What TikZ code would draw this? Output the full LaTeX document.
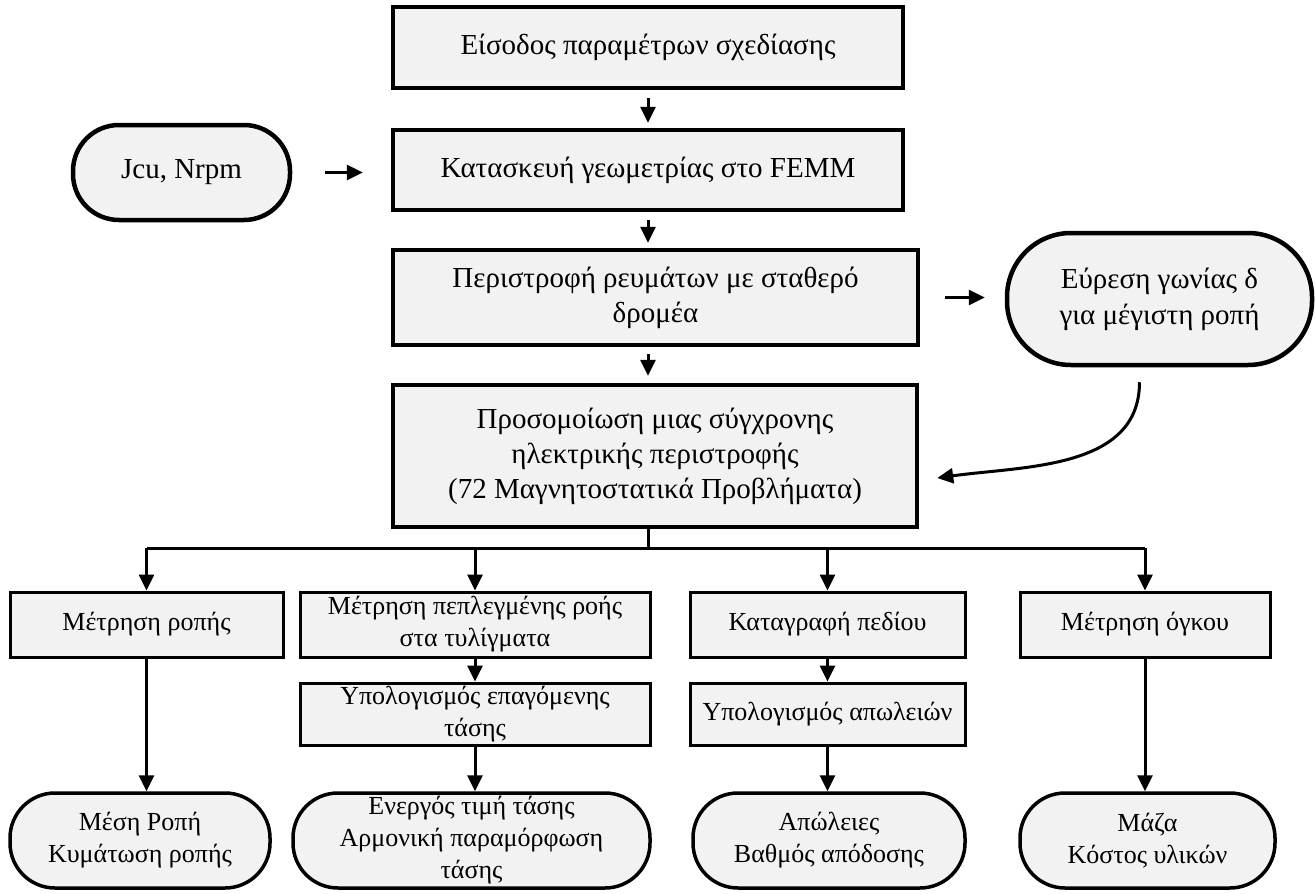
\documentclass[tikz,border=0pt]{standalone}
\usepackage{fontspec}
\setmainfont{Liberation Serif}
\usepackage{tikz}
\usetikzlibrary{arrows.meta}

\begin{document}
\begin{tikzpicture}[x=1pt,y=-1pt,
  stepbox/.style={draw=black,fill=black!5,line width=4.5pt,align=center,inner sep=0pt,font=\fontsize{29}{35}\selectfont},
  subbox/.style={draw=black,fill=black!5,line width=3pt,align=center,inner sep=0pt,font=\fontsize{26}{32}\selectfont},
  resbox/.style={draw=black,fill=black!5,line width=3.5pt,align=center,inner sep=0pt,rounded corners=45pt,font=\fontsize{26}{32}\selectfont},
  inbox/.style={draw=black,fill=black!5,line width=4.5pt,align=center,inner sep=0pt,rounded corners=46pt,font=\fontsize{29}{36}\selectfont},
  arr/.style={line width=3pt,-{Triangle[length=16pt,width=15pt]}},
  link/.style={line width=3pt}]
\useasboundingbox (0,0) rectangle (1315,894);
\node[stepbox,minimum width=510pt,minimum height=81pt] (input) at (648,47.5) {Είσοδος παραμέτρων σχεδίασης};
\node[stepbox,minimum width=510pt,minimum height=80pt] (geom) at (648,170) {Κατασκευή γεωμετρίας στο FEMM};
\node[inbox,minimum width=217pt,minimum height=95pt] (jcu) at (181.5,172.5) {Jcu, Nrpm};
\node[stepbox,minimum width=525pt,minimum height=95pt] (rot) at (655.5,297.5) {Περιστροφή ρευμάτων με σταθερό\\δρομέα};
\node[inbox,minimum width=305pt,minimum height=132pt,rounded corners=64pt] (delta) at (1159.5,299) {Εύρεση γωνίας δ\\για μέγιστη ροπή};
\node[stepbox,minimum width=524pt,minimum height=142pt] (sim) at (655,456) {Προσομοίωση μιας σύγχρονης\\ηλεκτρικής περιστροφής\\(72 Μαγνητοστατικά Προβλήματα)};

\node[subbox,minimum width=273pt,minimum height=65pt] (torque) at (146.5,624.5) {Μέτρηση ροπής};
\node[subbox,minimum width=350pt,minimum height=65pt] (flux) at (475,624.5) {Μέτρηση πεπλεγμένης ροής\\στα τυλίγματα};
\node[subbox,minimum width=275pt,minimum height=65pt] (field) at (827.5,624.5) {Καταγραφή πεδίου};
\node[subbox,minimum width=250pt,minimum height=65pt] (volume) at (1145,624.5) {Μέτρηση όγκου};
\node[subbox,minimum width=350pt,minimum height=62pt] (emf) at (475,714) {Υπολογισμός επαγόμενης\\τάσης};
\node[subbox,minimum width=275pt,minimum height=62pt] (loss) at (827.5,714) {Υπολογισμός απωλειών};

\node[resbox,minimum width=260pt,minimum height=95pt] (rtorque) at (140,840.5) {Μέση Ροπή\\Κυμάτωση ροπής};
\node[resbox,minimum width=357pt,minimum height=95pt] (remf) at (471.5,840.5) {Ενεργός τιμή τάσης\\Αρμονική παραμόρφωση\\τάσης};
\node[resbox,minimum width=272pt,minimum height=95pt] (rloss) at (829,840.5) {Απώλειες\\Βαθμός απόδοσης};
\node[resbox,minimum width=255pt,minimum height=95pt] (rmass) at (1147.5,840.5) {Μάζα\\Κόστος υλικών};

\draw[arr,shorten <=8pt,shorten >=5pt] (input) -- (geom);
\draw[arr,shorten <=33pt,shorten >=28pt] (jcu) -- (jcu -| geom.west);
\draw[arr,shorten <=8pt,shorten >=5pt] (geom.south -| input) -- (rot.north -| input);
\draw[arr,shorten <=25pt,shorten >=20pt] (rot.east) -- (rot.east -| delta.west);
\draw[arr,shorten <=7pt,shorten >=7pt] (rot.south -| input) -- (sim.north -| input);
\draw[arr] ([xshift=-20pt,yshift=-15pt]delta.south) to[out=-90,in=8] ([xshift=18pt,yshift=-22pt]sim.east);

\coordinate (split) at (648,548);
\draw[link] (sim.south -| split) -- (split);
\draw[link] (torque.north |- split) -- (volume.north |- split);
\foreach \n in {torque,flux,field,volume}
  \draw[arr] (\n.north |- split) -- (\n.north);

\draw[arr] (flux) -- (emf);
\draw[arr] (field) -- (loss);
\draw[arr] (emf.south) -- (emf.south |- remf.north);
\draw[arr] (loss.south) -- (loss.south |- rloss.north);
\draw[arr] (torque.south) -- (torque.south |- rtorque.north);
\draw[arr] (volume.south) -- (volume.south |- rmass.north);
\end{tikzpicture}
\end{document}
